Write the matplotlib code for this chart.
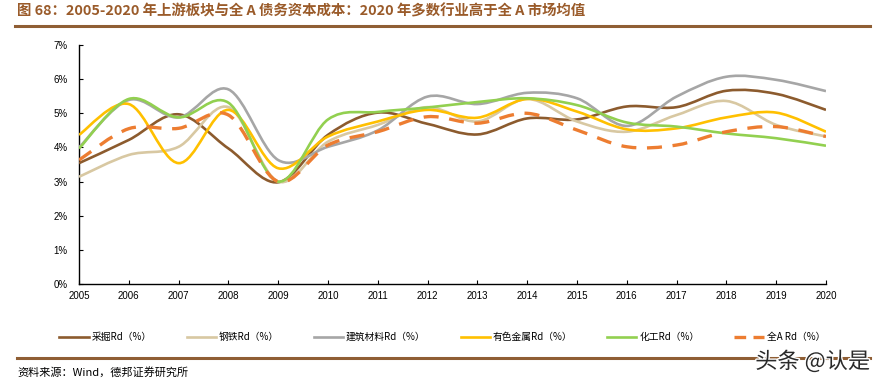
"""
2005-2020 上游板块与全A债务资本成本 折线图
"""
import matplotlib
matplotlib.use('Agg')

import matplotlib.pyplot as plt
from matplotlib.path import Path
from matplotlib.patches import PathPatch
from matplotlib.lines import Line2D
from matplotlib.ticker import FuncFormatter
import matplotlib.patheffects as pe

plt.rcParams['font.family'] = ['Noto Sans CJK SC', 'DejaVu Sans']

# 数据（%）
years = list(range(2005, 2021))
caijue = [3.54, 4.22, 4.97, 3.97, 2.98, 4.37, 5.02, 4.69, 4.38, 4.85, 4.82, 5.20, 5.18, 5.66, 5.57, 5.10]
gangtie = [3.14, 3.78, 4.02, 5.18, 3.00, 4.17, 4.66, 5.18, 4.76, 5.42, 4.76, 4.46, 4.95, 5.36, 4.66, 4.32]
jiancai = [4.00, 5.39, 4.88, 5.70, 3.63, 4.02, 4.50, 5.49, 5.27, 5.60, 5.44, 4.63, 5.49, 6.07, 5.98, 5.65]
youse = [4.37, 5.27, 3.54, 5.10, 3.39, 4.32, 4.76, 5.10, 4.87, 5.42, 5.05, 4.53, 4.56, 4.88, 5.02, 4.46]
huagong = [3.97, 5.42, 4.88, 5.31, 3.00, 4.82, 5.04, 5.17, 5.33, 5.44, 5.24, 4.73, 4.61, 4.41, 4.27, 4.05]
quanA = [3.63, 4.55, 4.56, 4.95, 3.00, 4.07, 4.46, 4.90, 4.71, 5.00, 4.51, 4.02, 4.07, 4.46, 4.61, 4.32]

labels = ['采掘Rd（%）', '钢铁Rd（%）', '建筑材料Rd（%）', '有色金属Rd（%）', '化工Rd（%）', '全A Rd（%）']

COLORS = ['#8C5B2E', '#D8C8A2', '#A6A6A6', '#FFC000', '#92D050', '#ED7D31']
TITLE_COLOR = '#9A5B2A'
RULE_COLOR = '#8F5E34'


def smooth_path(x, y):
    """Excel 风格平滑线：Catmull-Rom 转三次贝塞尔"""
    verts = [(x[0], y[0])]
    codes = [Path.MOVETO]
    n = len(x)
    for i in range(n - 1):
        x0, y0 = (x[i - 1], y[i - 1]) if i > 0 else (x[i], y[i])
        x1, y1 = x[i], y[i]
        x2, y2 = x[i + 1], y[i + 1]
        x3, y3 = (x[i + 2], y[i + 2]) if i + 2 < n else (x2, y2)
        c1 = (x1 + (x2 - x0) / 6, y1 + (y2 - y0) / 6)
        c2 = (x2 - (x3 - x1) / 6, y2 - (y3 - y1) / 6)
        verts += [c1, c2, (x2, y2)]
        codes += [Path.CURVE4] * 3
    return Path(verts, codes)


fig = plt.figure(figsize=(8.79, 3.88), dpi=100, facecolor='white')
ax = fig.add_axes([0.0899, 0.268, 0.8498, 0.616])

series = [caijue, gangtie, jiancai, youse, huagong, quanA]
handles = []
for i, (vals, color, label) in enumerate(zip(series, COLORS, labels)):
    dashed = (i == 5)
    lw = 2.4 if dashed else 1.9
    patch = PathPatch(smooth_path(years, vals), facecolor='none', edgecolor=color,
                      linewidth=lw, linestyle=(0, (4.5, 3.2)) if dashed else '-',
                      capstyle='butt', zorder=3 + i)
    ax.add_patch(patch)
    handles.append(Line2D([], [], color=color, linewidth=lw,
                          linestyle=(0, (3.5, 2.2)) if dashed else '-', label=label))

ax.set_xlim(2005, 2020)
ax.set_ylim(0, 7)
ax.set_xticks(years)
ax.set_yticks(range(0, 8))
ax.yaxis.set_major_formatter(FuncFormatter(lambda v, p: f'{int(v)}%'))

for s in ['top', 'right']:
    ax.spines[s].set_visible(False)
for s in ['left', 'bottom']:
    ax.spines[s].set_color('black')
    ax.spines[s].set_linewidth(1.0)

ax.tick_params(axis='both', direction='in', length=3, width=0.8, colors='black',
               labelsize=7)
ax.tick_params(axis='x', pad=5)
ax.tick_params(axis='y', pad=8)
for t in ax.get_xticklabels() + ax.get_yticklabels():
    t.set_fontfamily(['Liberation Sans', 'DejaVu Sans'])

# 图例
leg = fig.legend(handles=handles, loc='center', bbox_to_anchor=(0.503, 0.131), ncol=6,
                 frameon=False, fontsize=7, handlelength=3.0, handletextpad=0.3,
                 columnspacing=3.6)

# 标题与分隔线
fig.text(0.019, 0.972, '图 68：2005-2020 年上游板块与全 A 债务资本成本：2020 年多数行业高于全 A 市场均值',
         color=TITLE_COLOR, fontsize=10.4, fontweight='bold', ha='left', va='center')
fig.add_artist(Line2D([0.017, 0.99], [0.934, 0.934], color=RULE_COLOR, linewidth=2.2))
fig.add_artist(Line2D([0.019, 0.99], [0.078, 0.078], color=RULE_COLOR, linewidth=2.2))

# 资料来源
fig.text(0.02, 0.04, '资料来源：Wind，德邦证券研究所', fontsize=8, color='black',
         ha='left', va='center')

# 水印
fig.text(0.99, 0.068, '头条 @认是', fontsize=16, color='#2a2a2a', ha='right', va='center',
         path_effects=[pe.withStroke(linewidth=2, foreground='white')])

fig.savefig('out.png', dpi=100, facecolor='white')
plt.close(fig)
